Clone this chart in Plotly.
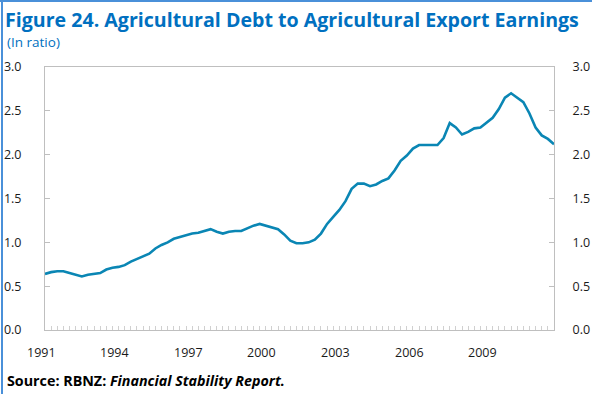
import plotly.graph_objects as go

# ---- data (quarterly, 1991Q1 .. 2011Q4) ----
start_year = 1991
ratio = [
    0.64, 0.66, 0.67, 0.67, 0.65, 0.63, 0.61, 0.63,   # 1991-1992
    0.64, 0.65, 0.69, 0.71, 0.72, 0.74, 0.78, 0.81,   # 1993-1994
    0.84, 0.87, 0.93, 0.97, 1.00, 1.04, 1.06, 1.08,   # 1995-1996
    1.10, 1.11, 1.13, 1.15, 1.12, 1.10, 1.12, 1.13,   # 1997-1998
    1.13, 1.16, 1.19, 1.21, 1.19, 1.17, 1.15, 1.09,   # 1999-2000
    1.02, 0.99, 0.99, 1.00, 1.03, 1.10, 1.21, 1.29,   # 2001-2002
    1.37, 1.47, 1.61, 1.67, 1.67, 1.64, 1.66, 1.70,   # 2003-2004
    1.73, 1.82, 1.93, 1.99, 2.07, 2.11, 2.11, 2.11,   # 2005-2006
    2.11, 2.19, 2.36, 2.31, 2.23, 2.26, 2.30, 2.31,   # 2007-2008
    2.36, 2.42, 2.52, 2.65, 2.70, 2.65, 2.60, 2.47,   # 2009-2010
    2.31, 2.22, 2.18, 2.12,                           # 2011
]
x_labels = ["1991", "1994", "1997", "2000", "2003", "2006", "2009"]
y_ticks = [0.0, 0.5, 1.0, 1.5, 2.0, 2.5, 3.0]

title_text = "Figure 24. Agricultural Debt to Agricultural Export Earnings"
subtitle_text = "(In ratio)"
source_html = "<b>Source: RBNZ: <i>Financial Stability Report.</i></b>"

# ---- styling ----
W, H = 592, 394
ML, MR, MT, MB = 45, 38, 67, 64
PW, PH = W - ML - MR, H - MT - MB
BLUE = "#0070C0"
LINE = "#0A86B4"
AXIS = "#BFBFBF"
FONT = "Open Sans"

def px_x(px):
    return (px - ML) / PW

def px_y(py):
    return (H - MB - py) / PH

xs = [start_year + i / 4 for i in range(len(ratio))]
x0, x1 = xs[0], xs[-1]

def data_to_paper_x(v):
    return (v - x0) / (x1 - x0)

fig = go.Figure()
fig.add_trace(go.Scatter(x=xs, y=ratio, mode="lines",
                         line=dict(color=LINE, width=2.6),
                         showlegend=False, hoverinfo="skip"))
fig.add_trace(go.Scatter(x=xs, y=ratio, mode="lines", yaxis="y2",
                         opacity=0, showlegend=False, hoverinfo="skip"))

fig.update_layout(
    width=W, height=H,
    margin=dict(l=ML, r=MR, t=MT, b=MB, autoexpand=False),
    paper_bgcolor="white", plot_bgcolor="white",
    font=dict(family=FONT, size=12, color="#1a1a1a"),
    xaxis=dict(range=[x0, x1], showgrid=False, zeroline=False, automargin=False,
               showline=True, linecolor=AXIS, linewidth=1, mirror=True,
               ticks="inside", tickmode="linear", tick0=start_year, dtick=0.25,
               ticklen=4, tickcolor="#D0D0D0", showticklabels=False),
    yaxis=dict(range=[0, 3], tickvals=y_ticks, ticktext=[f"{v:.1f}" for v in y_ticks],
               showgrid=False, zeroline=False, showline=True, linecolor=AXIS,
               linewidth=1, ticks="inside", ticklen=5, tickcolor=AXIS, automargin=False,
               ticklabelstandoff=20, tickfont=dict(size=12.5, color="#1a1a1a")),
    yaxis2=dict(range=[0, 3], overlaying="y", side="right", tickvals=y_ticks,
                ticktext=[f"{v:.1f}" for v in y_ticks], showgrid=False,
                zeroline=False, showline=True, linecolor=AXIS, linewidth=1,
                ticks="inside", ticklen=5, tickcolor=AXIS, automargin=False,
                ticklabelstandoff=15, tickfont=dict(size=12.5, color="#1a1a1a")),
    title=dict(text="<b>" + title_text + "</b>", xref="container", yref="container",
               x=5 / W, y=1 - 20 / H, xanchor="left", yanchor="middle",
               font=dict(family=FONT, size=19.6, color=BLUE)),
)

ann = []
ann.append(dict(text=subtitle_text, xref="paper", yref="paper", x=px_x(5), y=px_y(42),
                xanchor="left", yanchor="middle", showarrow=False,
                font=dict(family=FONT, size=13.5, color=BLUE)))
ann.append(dict(text=source_html, xref="paper", yref="paper", x=px_x(5), y=px_y(380),
                xanchor="left", yanchor="middle", showarrow=False,
                font=dict(family=FONT, size=14.3, color="#000000")))
for lab in x_labels:
    ann.append(dict(text=lab, xref="paper", yref="paper",
                    x=data_to_paper_x(int(lab) - 0.16), y=px_y(352),
                    xanchor="center", yanchor="middle", showarrow=False,
                    font=dict(family=FONT, size=12.5, color="#1a1a1a")))
fig.update_layout(annotations=ann)

# frame lines (left and top) of the figure box
fig.add_shape(type="line", xref="paper", yref="paper", x0=px_x(2), x1=px_x(2),
              y0=px_y(0), y1=px_y(H), line=dict(color="#4A90D9", width=2))
fig.add_shape(type="line", xref="paper", yref="paper", x0=px_x(0), x1=px_x(W),
              y0=px_y(1), y1=px_y(1), line=dict(color="#4A90D9", width=2))

fig.write_html("out.html")
